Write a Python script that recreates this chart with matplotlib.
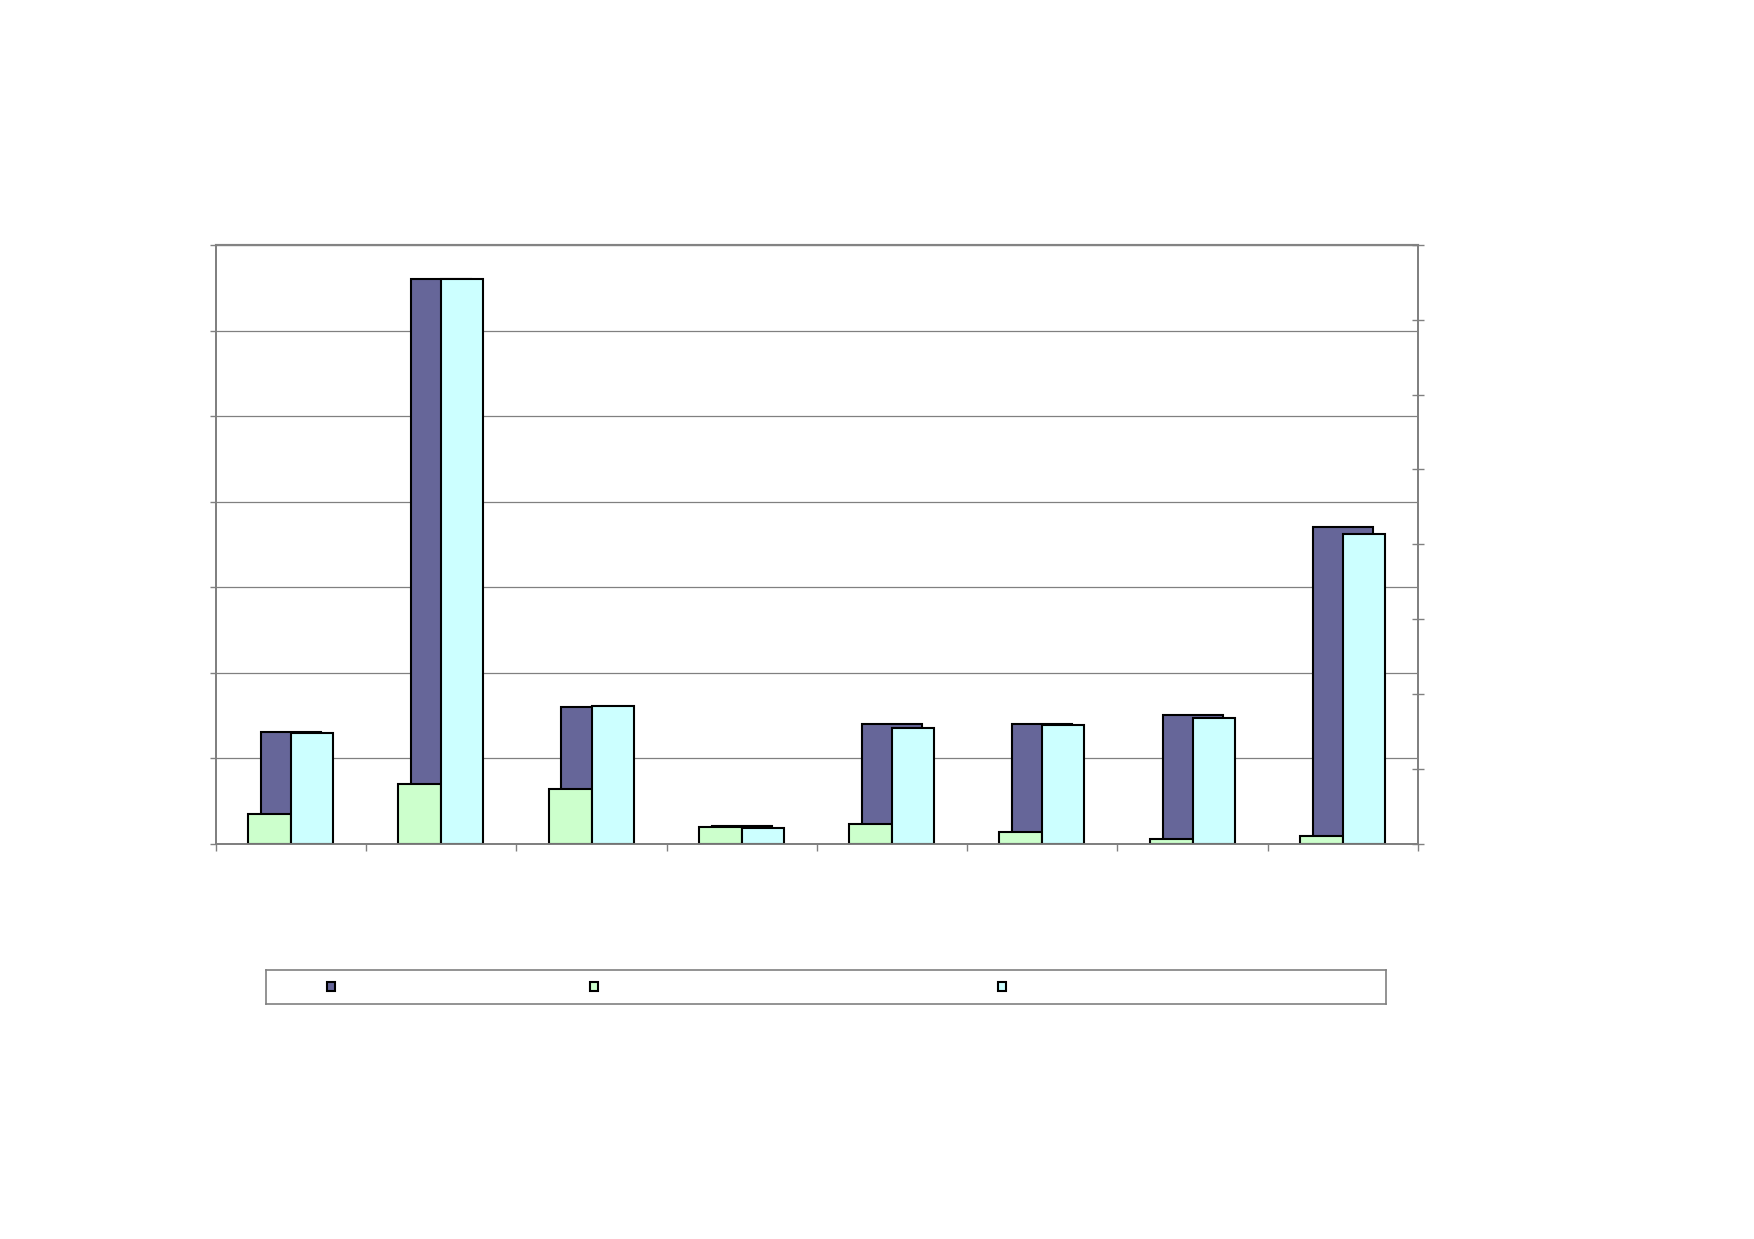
import matplotlib
matplotlib.use("Agg")
import matplotlib.pyplot as plt
from matplotlib.patches import Patch
import numpy as np

# ---- data (no text is visible in the reference) ----
categories = ["", "", "", "", "", "", "", ""]
series_names = ["", "", ""]
series_a = [1302, 6604, 1601, 205, 1402, 1402, 1504, 3701]      # left axis (dark purple)
series_b = [39.9, 79.2, 72.5, 22.5, 26.1, 15.8, 6.0, 10.4]      # right axis (light green)
series_c = [148.2, 754.8, 184.3, 20.3, 154.1, 158.5, 168.3, 414.4]  # right axis (light cyan)
left_ticks = [0, 1000, 2000, 3000, 4000, 5000, 6000, 7000]
right_ticks = [0, 100, 200, 300, 400, 500, 600, 700, 800]

col_a = "#666699"
col_b = "#CCFFCC"
col_c = "#CCFFFF"
grey = "#808080"

fig = plt.figure(figsize=(17.54, 12.39), dpi=100)
ax = fig.add_axes([0.1231, 0.3192, 0.6853, 0.4830])
ax2 = ax.twinx()

x = np.arange(len(categories)) + 0.5

ax.bar(x, series_a, width=0.40, color=col_a, edgecolor="black", linewidth=1.5, zorder=2)
ax2.bar(x - 0.143, series_b, width=0.286, color=col_b, edgecolor="black", linewidth=1.5, zorder=2)
ax2.bar(x + 0.140, series_c, width=0.280, color=col_c, edgecolor="black", linewidth=1.5, zorder=2)

ax.set_xlim(0, len(categories))
ax.set_ylim(left_ticks[0], left_ticks[-1])
ax2.set_ylim(right_ticks[0], right_ticks[-1])
ax.set_yticks(left_ticks)
ax2.set_yticks(right_ticks)
ax.set_xticks(np.arange(len(categories) + 1))
ax.set_xticklabels([])
ax.set_yticklabels([])
ax2.set_yticklabels([])

ax.yaxis.grid(True, color=grey, linewidth=0.9, zorder=0)
ax.set_axisbelow(True)

for a in (ax, ax2):
    for s in a.spines.values():
        s.set_color(grey)
        s.set_linewidth(1.3)
ax.spines["top"].set_color("#A0A0A0")
ax.spines["top"].set_linewidth(1.6)

ax.tick_params(axis="y", direction="out", length=4, width=1, color=grey)
ax.tick_params(axis="x", direction="out", length=5, width=1, color=grey)
ax2.tick_params(axis="y", direction="inout", length=9, width=1, color=grey)

# ---- legend box ----
lax = fig.add_axes([0.1517, 0.1897, 0.6385, 0.0274])
lax.set_xticks([])
lax.set_yticks([])
for s in lax.spines.values():
    s.set_color(grey)
    s.set_linewidth(1.2)
lax.patch.set_alpha(0)

legend_x = [0.1887, 0.3387, 0.5713]
for name, col, lx in zip(series_names, [col_a, col_b, col_c], legend_x):
    fig.legend(handles=[Patch(facecolor=col, edgecolor="black", linewidth=1.5)],
               labels=[name], loc="center", bbox_to_anchor=(lx, 0.2034),
               frameon=False, handlelength=0.6, handleheight=0.6,
               handletextpad=0, borderpad=0, borderaxespad=0)

fig.savefig("out.png", dpi=100, facecolor="white")
